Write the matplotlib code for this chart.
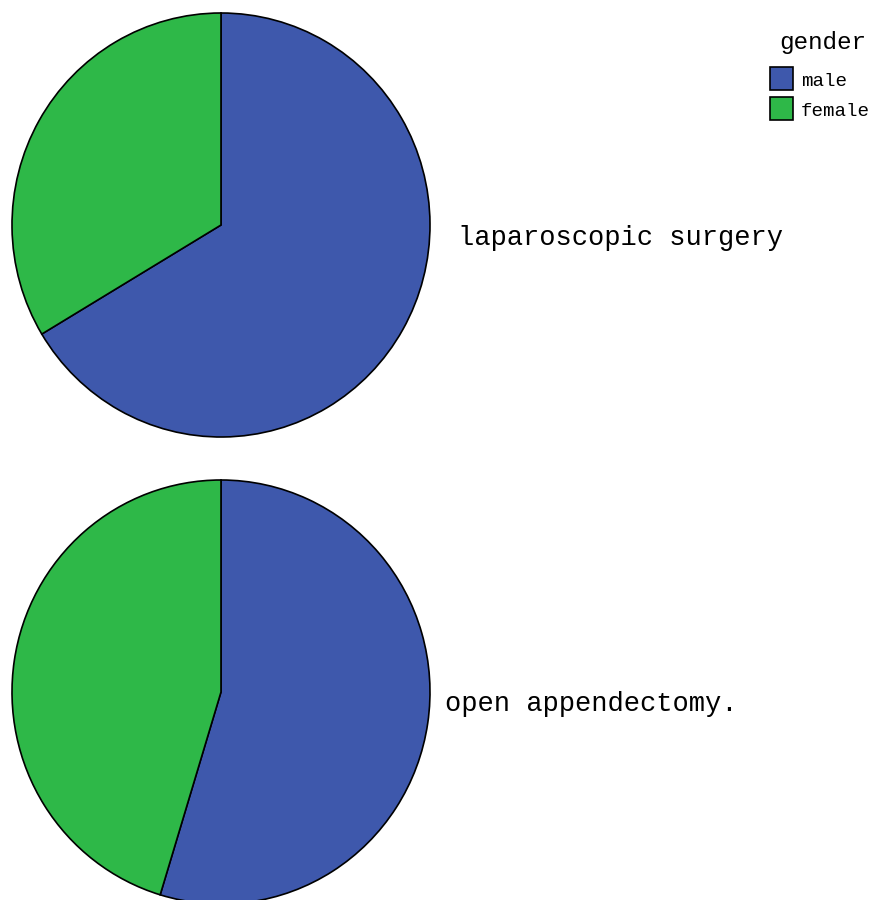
import matplotlib.pyplot as plt
from matplotlib.patches import Rectangle

# gender split for each procedure (percent)
genders = ['male', 'female']
procedures = ['laparoscopic surgery', 'open appendectomy.']
laparoscopic = [66.4, 33.6]
open_surgery = [54.7, 45.3]
colors = ['#3e58ac', '#2eb848']

W, H = 872, 900
fig = plt.figure(figsize=(W / 100, H / 100), dpi=100)
plt.rcParams['font.family'] = ['Liberation Mono', 'DejaVu Sans Mono']

def px_axes(cx, cy, rx, ry):
    return fig.add_axes([(cx - rx) / W, 1 - (cy + ry) / H, 2 * rx / W, 2 * ry / H])

pies = [(laparoscopic, 221, 225, 458, 238), (open_surgery, 221, 692, 445, 704)]
for (vals, cx, cy, tx, ty), name in zip(pies, procedures):
    ax = px_axes(cx, cy, 209, 212)
    ax.pie(vals, colors=colors, startangle=90, counterclock=False,
           wedgeprops=dict(edgecolor='black', linewidth=1.2))
    ax.set_xlim(-1, 1)
    ax.set_ylim(-1, 1)
    ax.set_aspect('auto')
    ax.axis('off')
    fig.text(tx / W, 1 - ty / H, name, fontsize=19.5, va='center', ha='left')

# legend
fig.text(779 / W, 1 - 42 / H, 'gender', fontsize=17.5, va='center', ha='left')
for i, (g, c) in enumerate(zip(genders, colors)):
    y = 67 + i * 30
    fig.add_artist(Rectangle((770 / W, 1 - (y + 23) / H), 23 / W, 23 / H,
                             facecolor=c, edgecolor='black', linewidth=1.2,
                             transform=fig.transFigure))
    fig.text(801 / W, 1 - (y + 15) / H, g, fontsize=13.8, va='center', ha='left')

plt.savefig('out.png', dpi=100)
